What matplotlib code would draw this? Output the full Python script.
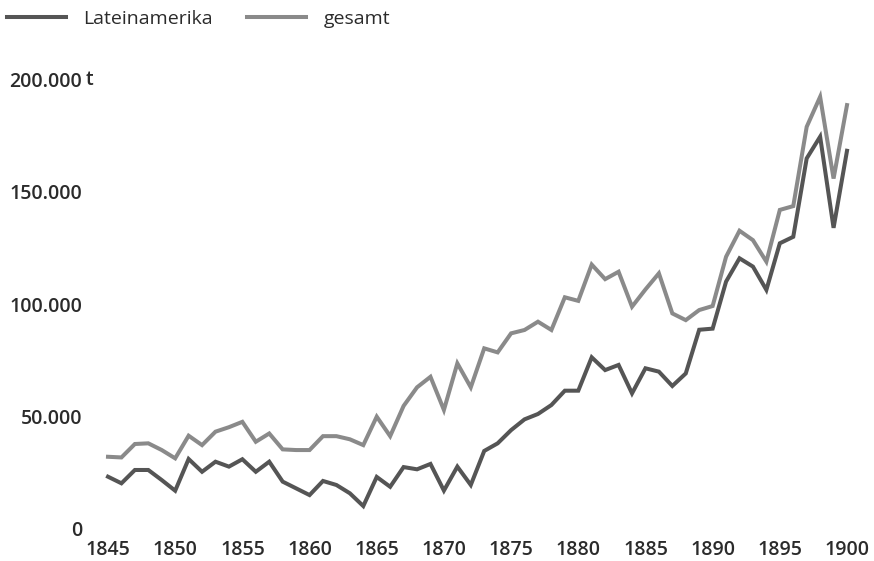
import matplotlib
matplotlib.use("Agg")
import matplotlib.pyplot as plt
from matplotlib.lines import Line2D
from matplotlib.transforms import blended_transform_factory

years = list(range(1845, 1901))

lateinamerika = [22900, 19950, 25900, 25900, 21400, 16650, 30800, 25100, 29600, 27400,
                 30700, 25100, 29600, 20700, 17700, 14700, 21000, 19200, 15500, 9800,
                 22800, 18400, 27200, 26200, 28600, 16700, 27400, 19200, 34400, 37800,
                 43700, 48500, 50900, 54900, 61300, 61300, 76200, 70500, 72800, 60100,
                 71300, 69800, 63400, 69000, 88500, 89000, 110000, 120400, 116700, 106300,
                 127100, 130000, 165000, 174700, 134000, 168400]

gesamt = [31800, 31500, 37500, 37800, 34800, 31100, 41200, 37000, 43000, 45000,
          47400, 38500, 42200, 35100, 34800, 34800, 41000, 41000, 39600, 37000,
          49700, 41000, 54500, 62800, 67500, 52700, 73500, 62800, 80200, 78400,
          86900, 88400, 92100, 88400, 103000, 101400, 117600, 111100, 114400, 98800,
          106500, 113700, 95800, 92800, 97300, 99100, 121100, 132700, 128500, 118900,
          142000, 143700, 179100, 192500, 156000, 188800]

y_ticks = [0, 50000, 100000, 150000, 200000]
y_labels = ["0", "50.000", "100.000", "150.000", "200.000"]
x_ticks = list(range(1845, 1901, 5))
x_labels = [str(x) for x in x_ticks]

c_lat = "#555555"
c_ges = "#8a8a8a"
txt = "#2b2b2b"

plt.rcParams["font.family"] = ["Open Sans", "DejaVu Sans"]

W, H = 874, 561
fig = plt.figure(figsize=(W / 100, H / 100), dpi=100)
left, right = 108, 847
bottom, top = 528, 80
ax = fig.add_axes([left / W, (H - bottom) / H, (right - left) / W, (bottom - top) / H])

ax.plot(years, gesamt, color=c_ges, lw=2.9, clip_on=False, solid_joinstyle="miter")
ax.plot(years, lateinamerika, color=c_lat, lw=2.9, clip_on=False, solid_joinstyle="miter")

ax.set_xlim(1845, 1900)
ax.set_ylim(0, 200000)
for s in ax.spines.values():
    s.set_visible(False)

ax.set_yticks(y_ticks)
ax.set_yticklabels(y_labels)
ax.set_xticks(x_ticks)
ax.set_xticklabels(x_labels)
ax.tick_params(axis="y", length=0, pad=18.5, labelsize=14, labelcolor=txt)
ax.tick_params(axis="x", length=0, pad=8.5, labelsize=14, labelcolor=txt)
for lab in ax.get_xticklabels() + ax.get_yticklabels():
    lab.set_fontweight("semibold")

trans = blended_transform_factory(fig.transFigure, ax.transData)
ax.text(86 / W, 200000, "t", transform=trans, ha="left", va="center",
        fontsize=14, fontweight="semibold", color=txt)

handles = [Line2D([], [], color=c_lat, lw=2.9), Line2D([], [], color=c_ges, lw=2.9)]
fig.legend(handles, ["Lateinamerika", "gesamt"], loc="center left",
           bbox_to_anchor=(7 / W, 1 - 19 / H), ncol=2, frameon=False,
           handlelength=3.03, handletextpad=0.9, columnspacing=1.75,
           borderaxespad=0, borderpad=0.0, prop={"size": 14}, labelcolor=txt)

fig.savefig("out.png", dpi=100)
